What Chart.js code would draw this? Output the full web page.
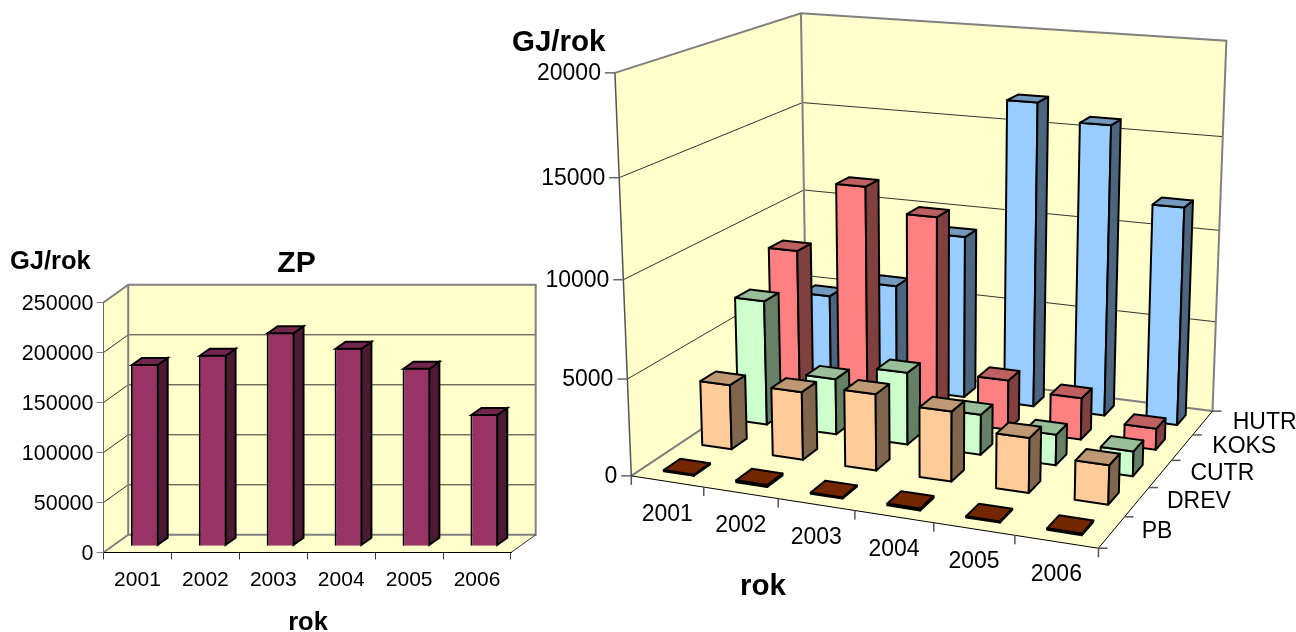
<!DOCTYPE html>
<html>
<head>
<meta charset="utf-8">
<style>
html,body{margin:0;padding:0;background:#fff;}
#stage{position:relative;width:1296px;height:632px;overflow:hidden;}
canvas{position:absolute;left:0;top:0;}
</style>
<script src="https://cdn.jsdelivr.net/npm/chart.js@4/dist/chart.umd.js"></script>
</head>
<body>
<div id="stage">
<canvas id="zp" width="540" height="632"></canvas>
<canvas id="fuels" width="1296" height="632"></canvas>
</div>
<script>
// Annual energy use in GJ/rok
const years = ['2001','2002','2003','2004','2005','2006'];
const zpValues = [182300,191600,214000,198600,178600,132300];

const fuelNames = ['PB','DREV','CUTR','KOKS','HUTR'];
const pbValues   = [60,100,60,100,60,80];
const drevValues = [3430,3575,3980,3610,2810,1990];
const cutrValues = [6740,3010,3850,2130,1620,1300];
const koksValues = [8430,12300,11050,2700,2250,1140];
const hutrValues = [4850,5860,9020,16620,15730,11765];
const fuelColors = ['#993300','#FFCC99','#CCFFCC','#FF8080','#99CCFF'];
const zpColor = '#993366';

const WALL = '#FFFFCC', EDGE = '#808080', GRID = '#333333', INK = '#000000';
const FONT = '"Liberation Sans", Arial, sans-serif';

// Darken a hex colour; tops use 0.75, right-hand faces 0.5
function shade(hex, k){
  const n = parseInt(hex.slice(1),16);
  const c = [n>>16&255, n>>8&255, n&255].map(v=>Math.round(v*k));
  return `rgb(${c[0]},${c[1]},${c[2]})`;
}
function poly(ctx, pts, fill, stroke, lw){
  ctx.beginPath();
  pts.forEach((p,i)=> i ? ctx.lineTo(p[0],p[1]) : ctx.moveTo(p[0],p[1]));
  if (fill){ ctx.closePath(); ctx.fillStyle = fill; ctx.fill(); }
  if (stroke){ ctx.strokeStyle = stroke; ctx.lineWidth = lw; ctx.stroke(); }
}
function text(ctx, s, x, y, font, align){
  ctx.font = font; ctx.fillStyle = INK; ctx.textAlign = align; ctx.textBaseline = 'middle';
  ctx.fillText(s, x, y);
}

/* ---------- left chart: oblique column chart ---------- */
const WALL_DX = 24.7, WALL_DY = -17.7;   // depth of the chart box
const BAR_OFF_X = 7.3, BAR_OFF_Y = -6.2; // columns stand inside the box
const BAR_DX = 10, BAR_DY = -7;          // depth of one column

const obliquePlugin = {
  id:'oblique',
  beforeDraw(chart){
    const {ctx, chartArea:{left,right,top,bottom}, scales:{y}} = chart;
    const dx = WALL_DX, dy = WALL_DY;
    ctx.save();
    poly(ctx,[[left,bottom],[left,top],[left+dx,top+dy],[left+dx,bottom+dy]],WALL);
    poly(ctx,[[left+dx,top+dy],[right+dx,top+dy],[right+dx,bottom+dy],[left+dx,bottom+dy]],WALL);
    poly(ctx,[[left,bottom],[left+dx,bottom+dy],[right+dx,bottom+dy],[right,bottom]],WALL);
    y.ticks.forEach(t=>{
      if (t.value===0 || t.value===y.max) return;
      const py = y.getPixelForValue(t.value);
      poly(ctx,[[left,py],[left+dx,py+dy],[right+dx,py+dy]],null,GRID,1);
    });
    poly(ctx,[[left,top],[left+dx,top+dy],[right+dx,top+dy],[right+dx,bottom+dy],[left+dx,bottom+dy],[left+dx,top+dy]],null,EDGE,2);
    poly(ctx,[[left,bottom],[left+dx,bottom+dy]],null,EDGE,2);
    poly(ctx,[[right,bottom],[right+dx,bottom+dy]],null,GRID,1);
    ctx.restore();
  },
  beforeDatasetDraw(chart){
    chart.ctx.save();
    chart.ctx.translate(BAR_OFF_X, BAR_OFF_Y);
  },
  afterDatasetDraw(chart, args){
    const ctx = chart.ctx, col = args.meta.controller.getDataset().backgroundColor;
    args.meta.data.forEach(b=>{
      const l = b.x-b.width/2+1, r = b.x+b.width/2-1, t = b.y+1, q = b.base-1;
      poly(ctx,[[r,t],[r+BAR_DX,t+BAR_DY],[r+BAR_DX,q+BAR_DY],[r,q]],shade(col,.5),INK,2);
      poly(ctx,[[l,t],[l+BAR_DX,t+BAR_DY],[r+BAR_DX,t+BAR_DY],[r,t]],shade(col,.75),INK,2);
    });
    ctx.restore();
  },
  afterDraw(chart){
    const ctx = chart.ctx;
    text(ctx,'ZP',296.5,263.5,`bold 30px ${FONT}`,'center');
    text(ctx,'GJ/rok',10,262,`bold 25.5px ${FONT}`,'left');
    text(ctx,'rok',308,623,`bold 25.5px ${FONT}`,'center');
  }
};

new Chart(document.getElementById('zp'),{
  type:'bar',
  data:{labels:years,datasets:[{
    label:'ZP',data:zpValues,backgroundColor:zpColor,borderColor:INK,borderWidth:2,
    categoryPercentage:1,barPercentage:.41,clip:false
  }]},
  options:{
    responsive:false,animation:false,
    layout:{padding:{left:0,top:302.5,right:29,bottom:0}},
    plugins:{legend:{display:false},tooltip:{enabled:false}},
    scales:{
      x:{
        afterFit(s){s.height=79.5;},
        grid:{drawOnChartArea:false,offset:true,tickLength:7,tickColor:GRID},
        border:{color:INK,width:1},
        ticks:{font:{family:FONT,size:21},color:INK,padding:8,maxRotation:0,autoSkip:false}
      },
      y:{
        min:0,max:250000,
        afterFit(s){s.width=103.5;},
        grid:{drawOnChartArea:false,tickLength:7,tickColor:EDGE},
        border:{color:'#666666',width:1},
        ticks:{stepSize:50000,font:{family:FONT,size:21.5},color:INK,padding:3,labelOffset:1.5,callback:v=>String(v)}
      }
    }
  },
  plugins:[obliquePlugin]
});

/* ---------- right chart: perspective column chart ---------- */
// Camera calibration: box corners [u,v,w] seen at screen [x,y]
const boxCorners = [
  [[0,0,0],[630.7,476]],[[1,0,0],[1098.3,548.3]],[[0,1,0],[807.5,359]],[[1,1,0],[1212.3,411]],
  [[0,0,1],[615.7,72.7]],[[0,1,1],[800,13.3]],[[1,1,1],[1226.7,40.7]]
];
// Least-squares fit of the 11-parameter projective camera
function solveCamera(samples){
  const rows = [];
  samples.forEach(([[u,v,w],[x,y]])=>{
    rows.push([u,v,w,1,0,0,0,0,-x*u,-x*v,-x*w,x]);
    rows.push([0,0,0,0,u,v,w,1,-y*u,-y*v,-y*w,y]);
  });
  const n = 11, A = [];
  for (let i=0;i<n;i++){
    A.push(new Array(n+1).fill(0));
    for (let j=0;j<=n;j++) rows.forEach(r=>{ A[i][j] += r[i]*r[j===n?11:j]; });
  }
  for (let c=0;c<n;c++){
    let p=c; for (let r=c+1;r<n;r++) if (Math.abs(A[r][c])>Math.abs(A[p][c])) p=r;
    [A[c],A[p]]=[A[p],A[c]];
    for (let r=0;r<n;r++){ if (r===c) continue;
      const f=A[r][c]/A[c][c];
      for (let j=c;j<=n;j++) A[r][j]-=f*A[c][j];
    }
  }
  return A.map((r,i)=>r[n]/r[i]);
}
const cam = solveCamera(boxCorners);
function project(u,v,w){
  const d = cam[8]*u+cam[9]*v+cam[10]*w+1;
  return [(cam[0]*u+cam[1]*v+cam[2]*w+cam[3])/d,(cam[4]*u+cam[5]*v+cam[6]*w+cam[7])/d];
}
const decimal = (scale,value)=>scale.getDecimalForPixel(scale.getPixelForValue(value));

const perspectivePlugin = {
  id:'perspective',
  beforeDraw(chart){
    const ctx = chart.ctx, y = chart.scales.y;
    const P = project;
    ctx.save();
    poly(ctx,[P(0,0,0),P(0,1,0),P(0,1,1),P(0,0,1)],WALL);
    poly(ctx,[P(0,1,0),P(1,1,0),P(1,1,1),P(0,1,1)],WALL);
    poly(ctx,[P(0,0,0),P(1,0,0),P(1,1,0),P(0,1,0)],WALL);
    y.ticks.forEach(t=>{
      const w = decimal(y,t.value);
      if (w===0 || w===1) return;
      poly(ctx,[P(0,0,w),P(0,1,w),P(1,1,w)],null,GRID,1);
    });
    poly(ctx,[P(0,0,1),P(0,1,1),P(1,1,1),P(1,1,0),P(0,1,0),P(0,0,0)],null,EDGE,2);
    poly(ctx,[P(0,1,0),P(0,1,1)],null,EDGE,2);
    poly(ctx,[P(0,0,0),P(0,0,1)],null,'#555555',1.5);
    poly(ctx,[P(0,0,0),P(1,0,0),P(1,1,0)],null,INK,1);
    ctx.restore();
  },
  // The prisms replace the flat bars; HUTR is farthest back and is painted first
  beforeDatasetsDraw(chart){
    const ctx = chart.ctx, {x,y,depth} = chart.scales;
    const P = project;
    ctx.save();
    ctx.lineJoin = 'round';
    for (let j=chart.data.datasets.length-1;j>=0;j--){
      const ds = chart.data.datasets[j];
      const halfU = ds.barPercentage/x.ticks.length/2, halfV = ds.barPercentage/depth.ticks.length/2;
      const vc = decimal(depth,j), col = ds.backgroundColor;
      ds.data.forEach((val,i)=>{
        const uc = decimal(x,i), w = decimal(y,val);
        const u0=uc-halfU,u1=uc+halfU,v0=vc-halfV,v1=vc+halfV;
        poly(ctx,[P(u0,v0,0),P(u1,v0,0),P(u1,v0,w),P(u0,v0,w)],col,INK,2);
        poly(ctx,[P(u1,v0,0),P(u1,v1,0),P(u1,v1,w),P(u1,v0,w)],shade(col,.5),INK,2);
        poly(ctx,[P(u0,v0,w),P(u1,v0,w),P(u1,v1,w),P(u0,v1,w)],shade(col,.75),INK,2);
      });
    }
    ctx.restore();
    return false;
  },
  afterDraw(chart){
    const ctx = chart.ctx, {x,y,depth} = chart.scales;
    const P = project, small = `23px ${FONT}`, big = `bold 29.5px ${FONT}`;
    // Value axis: ticks and labels follow the slanted front edge
    y.ticks.forEach(t=>{
      const p = P(0,0,decimal(y,t.value));
      poly(ctx,[[p[0]-10,p[1]],p],null,'#666666',1.5);
      text(ctx,String(t.value),p[0]-14,p[1]+1,small,'right');
    });
    // Year axis along the front edge of the floor
    for (let i=0;i<=years.length;i++){
      const p = P(i/years.length,0,0);
      poly(ctx,[p,[p[0],p[1]+9]],null,'#555555',1.5);
    }
    years.forEach((yr,i)=>{
      const p = P(decimal(x,i),0,0);
      text(ctx,yr,p[0],p[1]+33,small,'center');
    });
    // Fuel axis along the right edge of the floor
    for (let j=0;j<=fuelNames.length;j++){
      const p = P(1,j/fuelNames.length,0);
      poly(ctx,[p,[p[0]+9,p[1]]],null,'#555555',1.5);
    }
    fuelNames.forEach((nm,j)=>{
      const p = P(1,decimal(depth,j),0);
      text(ctx,nm,p[0]+30,p[1]-0.5,small,'left');
    });
    text(ctx,'GJ/rok',512,43,big,'left');
    text(ctx,'rok',763,587,big,'center');
  }
};

const fuelSeries = [pbValues,drevValues,cutrValues,koksValues,hutrValues];
new Chart(document.getElementById('fuels'),{
  type:'bar',
  data:{labels:years,datasets:fuelSeries.map((vals,j)=>({
    label:fuelNames[j],data:vals,backgroundColor:fuelColors[j],categoryPercentage:1,barPercentage:.42
  }))},
  options:{
    responsive:false,animation:false,
    layout:{padding:{left:616,top:72,right:80,bottom:84}},
    plugins:{legend:{display:false},tooltip:{enabled:false}},
    scales:{
      x:{display:false},
      y:{display:false,min:0,max:20000,ticks:{stepSize:5000}},
      depth:{type:'category',axis:'y',display:false,labels:fuelNames,offset:true}
    }
  },
  plugins:[perspectivePlugin]
});
</script>
</body>
</html>
